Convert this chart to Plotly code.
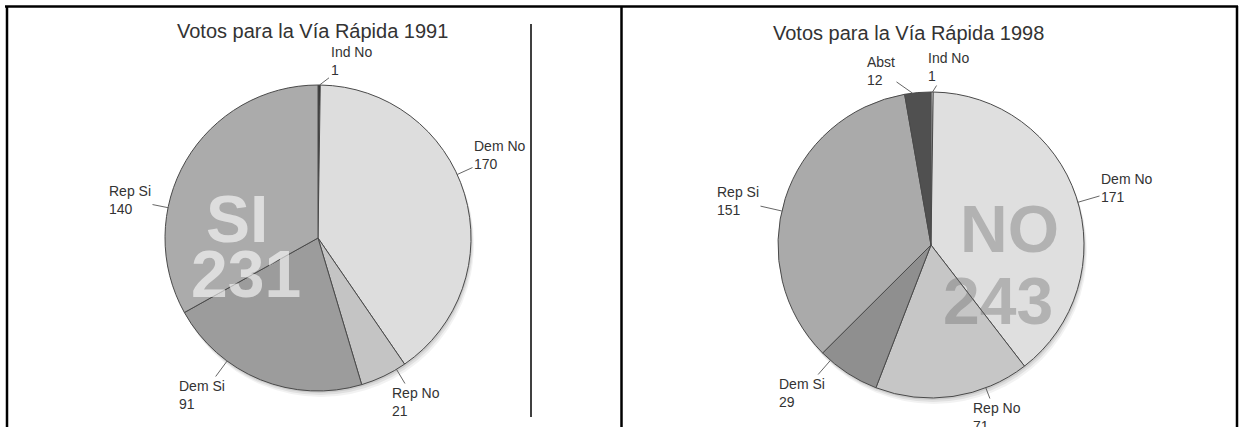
import math
import plotly.graph_objects as go

W, H = 1242, 427

# ---------------- data ----------------
labels_1991 = ["Ind No", "Dem No", "Rep No", "Dem Si", "Rep Si"]
values_1991 = [1, 170, 21, 91, 140]
labels_1998 = ["Ind No", "Dem No", "Rep No", "Dem Si", "Rep Si", "Abst"]
values_1998 = [1, 171, 71, 29, 151, 12]
title_1991 = "Votos para la Vía Rápida 1991"
title_1998 = "Votos para la Vía Rápida 1998"
big_word_1991 = "SI"
big_word_1998 = "NO"

# ---------------- styles / layout ----------------
FONT = "Liberation Sans, Arial, sans-serif"
colors_1991 = ["#2b2b2b", "#dddddd", "#c4c4c4", "#9c9c9c", "#ababab"]
colors_1998 = ["#ffffff", "#dfdfdf", "#c6c6c6", "#8f8f8f", "#aaaaaa", "#505050"]

R = 153
center_1991 = (318, 238)
center_1998 = (931, 245)

label_pos_1991 = {"Ind No": (351, 61), "Dem No": (500, 155), "Rep No": (416, 402),
                  "Dem Si": (202, 395), "Rep Si": (130, 200)}
label_pos_1998 = {"Ind No": (948, 67), "Dem No": (1127, 188), "Rep No": (997, 417),
                  "Dem Si": (802, 393), "Rep Si": (738, 201), "Abst": (881, 71)}

title_pos = [(312, 31), (908, 33)]
big_pos_1991 = [(237, 219), (246, 274)]
big_pos_1998 = [(1010, 229), (998, 301)]


def px(x):
    return x / W


def py(y):
    return 1 - y / H


fig = go.Figure()
annotations = []
shapes = []


def add_pie(labels, values, colors, center, label_pos, title, tpos):
    cx, cy = center
    fig.add_trace(go.Pie(
        labels=labels, values=values, sort=False, direction="clockwise", rotation=0,
        textinfo="none", hoverinfo="label+value", showlegend=False,
        marker=dict(colors=colors, line=dict(color="#4a4a4a", width=1)),
        domain=dict(x=[px(cx - R), px(cx + R)], y=[py(cy + R), py(cy - R)]),
    ))
    # soft shadow under the pie
    for off, a in [(6, 0.05), (4, 0.07), (2, 0.09)]:
        shapes.append(dict(type="circle", xref="paper", yref="paper", layer="below",
                           x0=px(cx - R + off * 0.5), x1=px(cx + R + off * 0.5),
                           y0=py(cy + R + off), y1=py(cy - R + off),
                           fillcolor=f"rgba(0,0,0,{a})", line=dict(width=0)))
    total = sum(values)
    cum = 0
    for lab, val in zip(labels, values):
        start = cum / total * 360
        end = (cum + val) / total * 360
        cum += val
        lx, ly = label_pos[lab]
        ang = math.degrees(math.atan2(lx - cx, cy - ly)) % 360
        m = min(0.3 * (end - start), 3)
        ang = min(max(ang, start + m), end - m)
        ex = cx + R * math.sin(math.radians(ang))
        ey = cy - R * math.cos(math.radians(ang))
        annotations.append(dict(
            x=px(ex), y=py(ey), xref="paper", yref="paper",
            xanchor="center", yanchor="middle",
            text=f"{lab}<br>{val}", showarrow=True, arrowhead=0, arrowwidth=0.9,
            arrowcolor="#555555", ax=lx - ex, ay=ly - ey, standoff=0,
            align="left", font=dict(family=FONT, size=14, color="#333333")))
    annotations.append(dict(x=px(tpos[0]), y=py(tpos[1]), xref="paper", yref="paper",
                            xanchor="center", yanchor="middle",
                            text=title, showarrow=False,
                            font=dict(family=FONT, size=20, color="#333333")))


add_pie(labels_1991, values_1991, colors_1991, center_1991, label_pos_1991, title_1991, title_pos[0])
add_pie(labels_1998, values_1998, colors_1998, center_1998, label_pos_1998, title_1998, title_pos[1])

si_1991 = sum(v for l, v in zip(labels_1991, values_1991) if l.endswith("Si"))
no_1998 = sum(v for l, v in zip(labels_1998, values_1998) if l.endswith("No"))

for txt, (x, y) in zip([big_word_1991, str(si_1991)], big_pos_1991):
    annotations.append(dict(x=px(x), y=py(y), xref="paper", yref="paper", text=f"<b>{txt}</b>",
                            xanchor="center", yanchor="middle", showarrow=False,
                            font=dict(family=FONT, size=66, color="rgba(255,255,255,0.6)")))
for txt, (x, y) in zip([big_word_1998, str(no_1998)], big_pos_1998):
    annotations.append(dict(x=px(x), y=py(y), xref="paper", yref="paper", text=f"<b>{txt}</b>",
                            xanchor="center", yanchor="middle", showarrow=False,
                            font=dict(family=FONT, size=66, color="rgba(110,110,110,0.4)")))

# table borders and the chart frame line
border = dict(color="black", width=2.5)
shapes += [
    dict(type="line", xref="paper", yref="paper", x0=px(5), x1=px(1238), y0=py(6.5), y1=py(6.5), line=border),
    dict(type="line", xref="paper", yref="paper", x0=px(7), x1=px(7), y0=py(6), y1=py(427), line=border),
    dict(type="line", xref="paper", yref="paper", x0=px(621.5), x1=px(621.5), y0=py(6), y1=py(427), line=border),
    dict(type="line", xref="paper", yref="paper", x0=px(1237), x1=px(1237), y0=py(6), y1=py(427), line=border),
    dict(type="line", xref="paper", yref="paper", x0=px(531), x1=px(531), y0=py(24), y1=py(417),
         line=dict(color="black", width=1.5)),
]

fig.update_layout(
    width=W, height=H, margin=dict(l=0, r=0, t=0, b=0),
    paper_bgcolor="white", plot_bgcolor="white",
    annotations=annotations, shapes=shapes,
)

fig.write_html("out.html", config={"displayModeBar": False})
